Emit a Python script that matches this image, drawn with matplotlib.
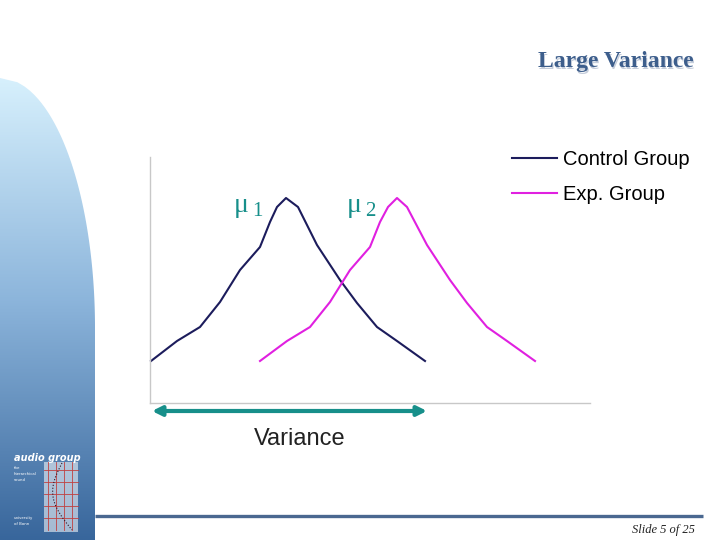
import numpy as np
import matplotlib
matplotlib.use('Agg')
import matplotlib.pyplot as plt
from matplotlib.patches import Polygon

# Chart data (x/y in arbitrary units)
control_x = [0.1, 2.7, 5.0, 7.0, 9.0, 11.0, 12.0, 12.7, 13.6, 14.8, 16.7, 19.0, 20.7, 22.7, 24.7, 27.5]
control_y = [4.2, 6.2, 7.6, 10.1, 13.3, 15.6, 18.1, 19.6, 20.5, 19.6, 15.8, 12.3, 10.0, 7.6, 6.2, 4.2]
exp_x = [11.0, 13.7, 16.0, 18.0, 20.0, 22.0, 23.0, 23.8, 24.7, 25.7, 27.7, 30.0, 31.7, 33.7, 35.7, 38.5]
exp_y = [4.2, 6.2, 7.6, 10.1, 13.3, 15.6, 18.1, 19.6, 20.5, 19.6, 15.8, 12.3, 10.0, 7.6, 6.2, 4.2]
series_names = ['Control Group', 'Exp. Group']
series_colors = ['#1c1c5c', '#e020e0']
variance_span = [0.2, 27.7]

TEAL = '#178f8a'

fig = plt.figure(figsize=(7.2, 5.4), dpi=100)

# background layer in pixel coordinates
bg = fig.add_axes([0, 0, 1, 1])
bg.set_xlim(0, 720)
bg.set_ylim(540, 0)
bg.axis('off')

# blue gradient side panel
ys = np.linspace(0, 540, 300)
stops_y = [80, 300, 540]
stops_c = np.array([[0.84, 0.94, 0.99], [0.55, 0.71, 0.86], [0.22, 0.40, 0.61]])
grad = np.stack([np.interp(ys, stops_y, stops_c[:, k]) for k in range(3)], axis=1)
grad = grad[:, None, :]
im = bg.imshow(grad, extent=[0, 95, 540, 0], aspect='auto', zorder=1)
yy = np.linspace(78, 328, 60)
xx = 95 * np.sqrt(np.clip(1 - ((328 - yy) / 250) ** 2, 0, 1))
pts = [(0, 540), (0, 78)] + list(zip(xx, yy)) + [(95, 540)]
clip = Polygon(pts, closed=True, transform=bg.transData, facecolor='none', edgecolor='none')
bg.add_patch(clip)
im.set_clip_path(clip)

# bottom rule
bg.plot([95, 703], [516, 516], color='#4a6890', lw=2.4, solid_capstyle='butt', zorder=2)

# logo
bg.text(14, 458, 'audio group', color='white', fontsize=7, fontweight='bold',
        fontstyle='italic', va='center', zorder=3)
for i, t in enumerate(['the', 'hierarchical', 'sound']):
    bg.text(14, 468 + i * 6, t, color='white', fontsize=2.8, va='center', zorder=3)
bg.text(14, 518, 'university', color='white', fontsize=2.8, va='center', zorder=3)
bg.text(14, 524, 'of Bonn', color='white', fontsize=2.8, va='center', zorder=3)
bg.add_patch(plt.Rectangle((44, 462), 34, 70, facecolor='white', alpha=0.55,
                           edgecolor='none', zorder=2))
for gx in [48, 56, 64, 72]:
    bg.plot([gx, gx], [462, 530], color='#c04040', lw=0.6, zorder=3)
for gy in [470, 482, 494, 506, 518]:
    bg.plot([44, 78], [gy, gy], color='#c04040', lw=0.6, zorder=3)
cy = np.linspace(463, 530, 30)
cx = 62 - 14 * np.sin((cy - 463) / 67 * np.pi) + (cy - 463) / 67 * 10
bg.plot(cx, cy, color='#301020', lw=0.8, ls=':', zorder=4)

# title
bg.text(695, 63, 'Large Variance', ha='right', va='center', fontsize=17,
        fontweight='bold', family='Liberation Serif', color='#c4ccda', zorder=3)
bg.text(694, 62, 'Large Variance', ha='right', va='center', fontsize=17,
        fontweight='bold', family='Liberation Serif', color='#3d5e8c', zorder=4)

# slide number
bg.text(695, 530, 'Slide 5 of 25', ha='right', va='center', fontsize=9,
        fontstyle='italic', family='Liberation Serif', color='#222222')

# chart axes
ax = fig.add_axes([150 / 720, 137 / 540, 440 / 720, 246 / 540])
ax.patch.set_alpha(0)
ax.set_xlim(0, 44)
ax.set_ylim(0, 24.6)
for s in ['top', 'right']:
    ax.spines[s].set_visible(False)
for s in ['left', 'bottom']:
    ax.spines[s].set_color('#c8c8c8')
    ax.spines[s].set_linewidth(1.0)
ax.set_xticks([])
ax.set_yticks([])

ax.plot(control_x, control_y, color=series_colors[0], lw=1.5, label=series_names[0], clip_on=False)
ax.plot(exp_x, exp_y, color=series_colors[1], lw=1.5, label=series_names[1], clip_on=False)

leg = ax.legend(loc='upper left', bbox_to_anchor=(0.782, 1.103), frameon=False,
                handlelength=2.2, handletextpad=0.3, labelspacing=0.8,
                prop={'family': 'Liberation Sans', 'size': 14.5})

# mu labels
ax.text(8.4, 19.8, 'μ', fontsize=20, family='Liberation Serif', color=TEAL, va='center')
ax.text(10.2, 19.2, '1', fontsize=15, family='Liberation Serif', color=TEAL, va='center')
ax.text(19.7, 19.8, 'μ', fontsize=20, family='Liberation Serif', color=TEAL, va='center')
ax.text(21.5, 19.2, '2', fontsize=15, family='Liberation Serif', color=TEAL, va='center')

# variance arrow
ax.annotate('', xy=(variance_span[0], -0.8), xytext=(variance_span[1], -0.8),
            arrowprops=dict(arrowstyle='<|-|>', color=TEAL, lw=3, mutation_scale=14,
                            shrinkA=0, shrinkB=0),
            annotation_clip=False)
ax.text(15.0, -3.6, 'Variance', ha='center', va='center', fontsize=17,
        family='Liberation Sans', color='#222222')

fig.savefig('out.png', dpi=100)
